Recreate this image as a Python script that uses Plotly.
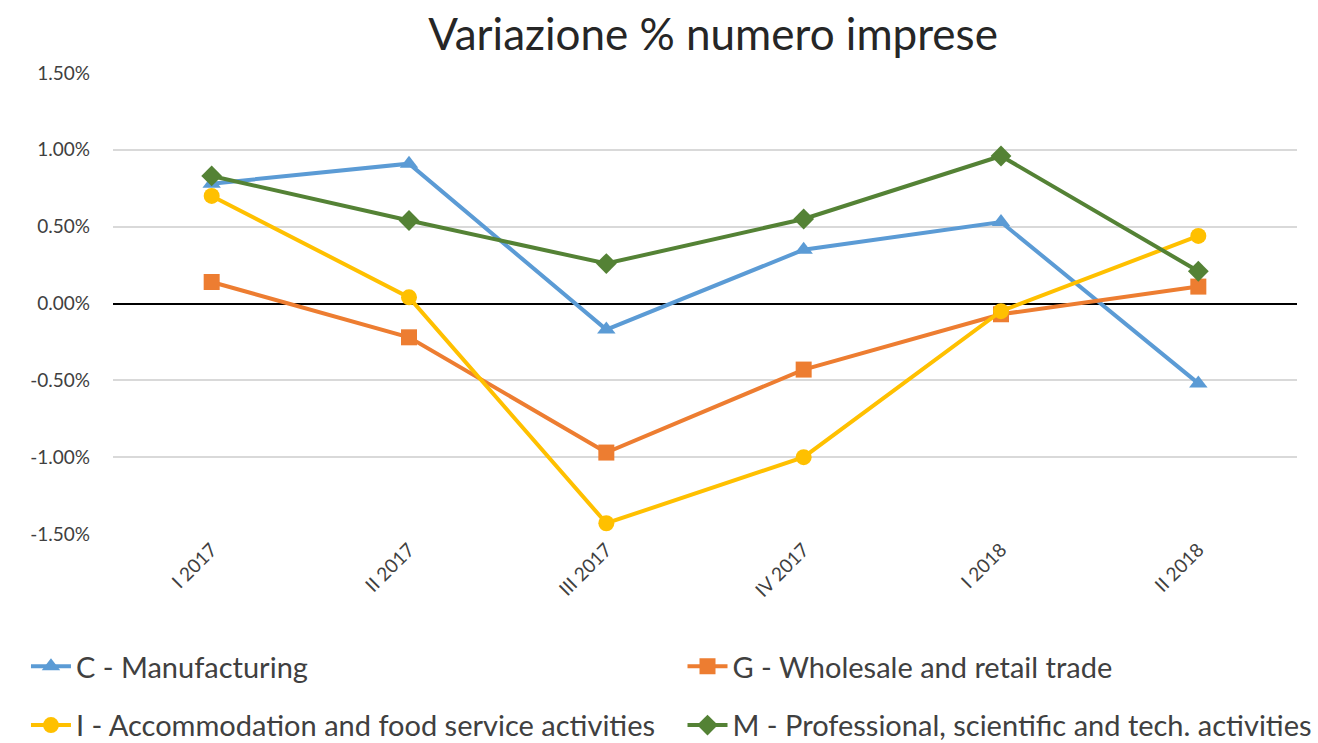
import plotly.graph_objects as go

# trimestri
quarters = ["I 2017", "II 2017", "III 2017", "IV 2017", "I 2018", "II 2018"]

# variazione % numero imprese per settore
manufacturing = [0.78, 0.91, -0.17, 0.35, 0.53, -0.52]
wholesale = [0.14, -0.22, -0.97, -0.43, -0.07, 0.11]
accommodation = [0.70, 0.04, -1.43, -1.00, -0.05, 0.44]
professional = [0.83, 0.54, 0.26, 0.55, 0.96, 0.21]

y_ticks = [-1.5, -1.0, -0.5, 0.0, 0.5, 1.0, 1.5]
y_labels = ["-1.50%", "-1.00%", "-0.50%", "0.00%", "0.50%", "1.00%", "1.50%"]

# nome, valori, colore, simbolo, colonna della legenda
series = [
    ("C - Manufacturing", manufacturing, "#5B9BD5", "triangle-up", "legend"),
    ("G - Wholesale and retail trade", wholesale, "#ED7D31", "square", "legend2"),
    ("I - Accommodation and food service activities", accommodation, "#FFC000", "circle", "legend"),
    ("M - Professional, scientific and tech. activities", professional, "#548235", "diamond", "legend2"),
]

fig = go.Figure()
for name, vals, color, symbol, leg in series:
    fig.add_trace(go.Scatter(
        x=quarters, y=vals, name=name, mode="lines+markers",
        line=dict(color=color, width=4),
        marker=dict(symbol=symbol, size=16, color=color),
        legend=leg, legendgroup=name,
    ))

font_family = "Lato, 'Open Sans', sans-serif"
legend_style = dict(
    orientation="v", yanchor="middle", y=-0.3514, xanchor="left",
    font=dict(size=29, color="#404040", family=font_family),
    tracegroupgap=18, itemwidth=40, bgcolor="rgba(0,0,0,0)",
)

fig.update_layout(
    width=1318, height=743,
    paper_bgcolor="white", plot_bgcolor="white",
    margin=dict(l=113, r=21, t=73, b=209, autoexpand=False),
    font=dict(family=font_family, color="#404040"),
    title=dict(text="Variazione % numero imprese", x=0.541, xref="container",
               xanchor="center", y=0.953, yanchor="middle",
               font=dict(size=44, color="#262626", family=font_family)),
    xaxis=dict(
        type="category", range=[-0.5, 5.5], tickangle=-45,
        tickfont=dict(size=19, color="#404040"), showgrid=False,
        showline=False, ticks="",
    ),
    yaxis=dict(
        range=[-1.5, 1.5], tickvals=y_ticks, ticktext=y_labels,
        tickfont=dict(size=19, color="#404040"), ticklabelstandoff=22,
        showgrid=True, gridcolor="#D9D9D9", gridwidth=1.5,
        zeroline=True, zerolinecolor="#000000", zerolinewidth=2,
        ticks="", showline=False,
    ),
    legend=dict(x=-0.0735, **legend_style),
    legend2=dict(x=0.481, **legend_style),
)

# niente margine della pagina, il grafico parte dall'angolo in alto a sinistra
fig.write_html("out.html", config={"displayModeBar": False},
               post_script="document.body.style.margin='0';")
